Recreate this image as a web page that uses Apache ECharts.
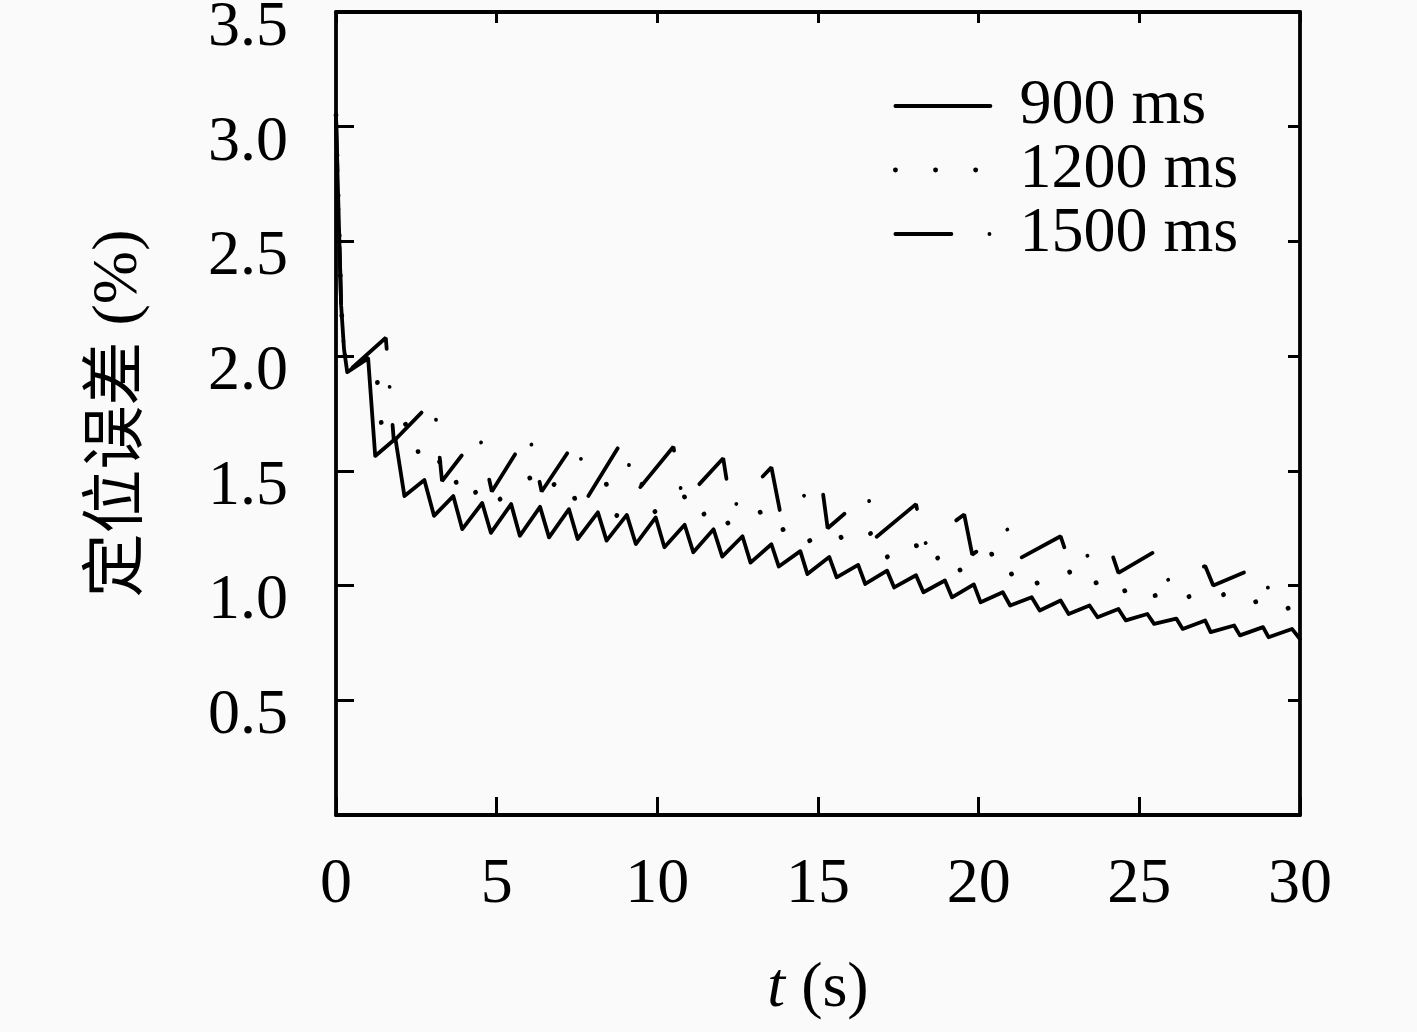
<!DOCTYPE html>
<html>
<head>
<meta charset="utf-8">
<script src="https://cdn.jsdelivr.net/npm/echarts@6/dist/echarts.min.js"></script>
<style>
html,body{margin:0;padding:0;background:#fafafa;}
#c{width:1417px;height:1032px;}
</style>
</head>
<body>
<div id="c"></div>
<script>
// ---- data ----
const seriesNames = ['900 ms', '1200 ms', '1500 ms'];
const xTicks = [0, 5, 10, 15, 20, 25, 30];
const yTicks = [0.5, 1.0, 1.5, 2.0, 2.5, 3.0, 3.5];

// 900 ms
const t900 = [0, 0.05, 0.1, 0.16, 0.25, 0.35, 1.0, 1.22, 1.85, 2.13, 2.75, 3.05, 3.65, 3.93, 4.55, 4.82,
  5.45, 5.72, 6.35, 6.63, 7.25, 7.52, 8.15, 8.42, 9.05, 9.33, 9.95, 10.22, 10.85, 11.12, 11.75, 12.02,
  12.65, 12.9, 13.55, 13.78, 14.45, 14.67, 15.35, 15.58, 16.25, 16.47, 17.15, 17.37, 18.05, 18.28,
  18.95, 19.17, 19.85, 20.06, 20.75, 20.98, 21.65, 21.9, 22.55, 22.8, 23.45, 23.7, 24.35, 24.58,
  25.25, 25.46, 26.15, 26.35, 27.05, 27.22, 27.95, 28.13, 28.85, 29.02, 29.75, 30];
const e900 = [3.05, 2.78, 2.53, 2.22, 2.03, 1.93, 1.99, 1.565, 1.64, 1.39, 1.46, 1.304, 1.39, 1.246, 1.36, 1.23,
  1.355, 1.217, 1.343, 1.21, 1.333, 1.203, 1.319, 1.196, 1.308, 1.181, 1.297, 1.167, 1.265, 1.145, 1.245, 1.126,
  1.215, 1.10, 1.18, 1.083, 1.15, 1.05, 1.125, 1.036, 1.09, 1.007, 1.065, 0.992, 1.045, 0.971,
  1.022, 0.949, 1.005, 0.927, 0.971, 0.913, 0.949, 0.891, 0.935, 0.876, 0.913, 0.862, 0.898, 0.848,
  0.876, 0.833, 0.856, 0.811, 0.848, 0.797, 0.826, 0.783, 0.819, 0.775, 0.811, 0.767];

// 1200 ms
const t1200 = [0, 0.05, 0.1, 0.16, 0.25, 0.35, 1.2, 1.45, 2.4, 2.65, 3.6, 3.85, 4.8, 5.05, 6.0, 6.25,
  7.2, 7.45, 8.4, 8.65, 9.6, 9.85, 10.8, 11.05, 12.0, 12.25, 13.2, 13.45, 14.4, 14.65, 15.6, 15.85,
  16.8, 17.05, 18.0, 18.25, 19.2, 19.45, 20.4, 20.65, 21.6, 21.85, 22.8, 23.05, 24.0, 24.25,
  25.2, 25.45, 26.4, 26.65, 27.6, 27.85, 28.8, 29.05, 30];
const e1200 = [3.05, 2.78, 2.53, 2.22, 2.03, 1.93, 2.015, 1.65, 1.72, 1.50, 1.565, 1.36, 1.45, 1.37, 1.48, 1.39,
  1.48, 1.37, 1.45, 1.29, 1.455, 1.315, 1.41, 1.28, 1.355, 1.25, 1.32, 1.22, 1.27, 1.19, 1.25, 1.165,
  1.24, 1.115, 1.205, 1.08, 1.16, 1.055, 1.14, 1.025, 1.09, 1.0, 1.07, 0.98, 1.03, 0.96,
  1.015, 0.955, 0.99, 0.925, 0.965, 0.905, 0.935, 0.88, 0.915];

// 1500 ms
const t1500 = [0, 0.05, 0.1, 0.16, 0.25, 0.35, 1.55, 1.8, 3.05, 3.3, 4.45, 4.85, 6.0, 6.4, 7.5, 7.85,
  8.95, 9.3, 10.5, 10.8, 12.05, 12.3, 13.55, 13.85, 15.1, 15.3, 16.55, 16.8, 18.05, 18.3, 19.55, 19.8,
  21.0, 21.3, 22.55, 22.85, 24.05, 24.35, 25.5, 25.8, 27.05, 27.3, 28.55, 28.85, 30];
const e1500 = [3.05, 2.78, 2.53, 2.22, 2.03, 1.93, 2.08, 1.63, 1.81, 1.455, 1.665, 1.41, 1.667, 1.41, 1.64, 1.39,
  1.64, 1.40, 1.605, 1.365, 1.555, 1.333, 1.515, 1.30, 1.46, 1.25, 1.40, 1.21, 1.355, 1.18, 1.31, 1.135,
  1.255, 1.12, 1.215, 1.09, 1.18, 1.055, 1.15, 1.02, 1.085, 1.00, 1.075, 0.985, 1.03];

function pairs(t, e) { return t.map((v, i) => [v, e[i]]); }

const FONT = '"Liberation Serif", "Noto Sans CJK SC", serif';
const chart = echarts.init(document.getElementById('c'), null, {renderer: 'canvas'});

const styles = [
  {color: '#000', width: 3.8, type: 'solid', cap: 'round', join: 'round'},
  {color: '#000', width: 4.8, type: [0.1, 40], cap: 'round'},
  {color: '#000', width: 3.8, type: [56, 38, 0.1, 38], cap: 'round'}
];

const common = {
  type: 'line', symbol: 'none', showSymbol: false, smooth: false,
  xAxisIndex: 0, yAxisIndex: 0, animation: false, itemStyle: {color: '#000'}
};

const frameLine = {show: true, onZero: false, lineStyle: {color: '#000', width: 3.8}};

chart.setOption({
  backgroundColor: '#fafafa',
  animation: false,
  grid: {left: 336, top: 12, width: 964, height: 803, containLabel: false, outerBoundsMode: 'none'},
  legend: {
    orient: 'vertical', left: 888, top: 69, itemWidth: 95, itemHeight: 14, itemGap: 0,
    data: seriesNames.map((n, i) => ({name: n, itemStyle: {opacity: 0}, lineStyle: styles[i]})),
    itemStyle: {opacity: 0},
    textStyle: {fontFamily: FONT, fontSize: 64, color: '#000', lineHeight: 62, padding: [0, 0, 0, 24]}
  },
  xAxis: [{
    type: 'value', min: 0, max: 30, interval: 5, position: 'bottom',
    name: '{i|t} (s)', nameLocation: 'middle', nameGap: 142,
    nameTextStyle: {fontFamily: FONT, fontSize: 64, color: '#000',
      rich: {i: {fontFamily: FONT, fontSize: 64, fontStyle: 'italic', color: '#000'}}},
    axisLine: frameLine,
    axisTick: {show: true, inside: true, length: 18, lineStyle: {color: '#000', width: 3}},
    axisLabel: {show: true, margin: 38, fontFamily: FONT, fontSize: 64, color: '#000',
      formatter: v => xTicks.indexOf(v) >= 0 ? String(v) : ''},
    splitLine: {show: false}
  }, {
    type: 'value', min: 0, max: 30, interval: 5, position: 'top',
    axisLine: frameLine,
    axisTick: {show: true, inside: true, length: 11, lineStyle: {color: '#000', width: 3}},
    axisLabel: {show: false}, splitLine: {show: false}
  }],
  yAxis: [{
    type: 'value', min: 0, max: 3.5, interval: 0.5, position: 'left',
    name: '定位误差 (%)', nameLocation: 'middle', nameGap: 185, nameRotate: 90,
    nameTextStyle: {fontFamily: FONT, fontSize: 64, color: '#000'},
    axisLine: frameLine,
    axisTick: {show: true, inside: true, length: 18, lineStyle: {color: '#000', width: 3}},
    axisLabel: {show: true, margin: 48, fontFamily: FONT, fontSize: 64, color: '#000',
      verticalAlign: 'top', lineHeight: 32,
      formatter: v => {
        const k = yTicks.findIndex(y => Math.abs(y - v) < 1e-9);
        return k >= 0 ? yTicks[k].toFixed(1) : '';
      }},
    splitLine: {show: false}
  }, {
    type: 'value', min: 0, max: 3.5, interval: 0.5, position: 'right',
    axisLine: frameLine,
    axisTick: {show: true, inside: true, length: 12, lineStyle: {color: '#000', width: 3}},
    axisLabel: {show: false}, splitLine: {show: false}
  }],
  series: [
    Object.assign({}, common, {name: seriesNames[2], z: 2, data: pairs(t1500, e1500), lineStyle: styles[2]}),
    Object.assign({}, common, {name: seriesNames[1], z: 3, data: pairs(t1200, e1200), lineStyle: styles[1]}),
    Object.assign({}, common, {name: seriesNames[0], z: 4, data: pairs(t900, e900), lineStyle: styles[0]})
  ]
});
</script>
</body>
</html>
